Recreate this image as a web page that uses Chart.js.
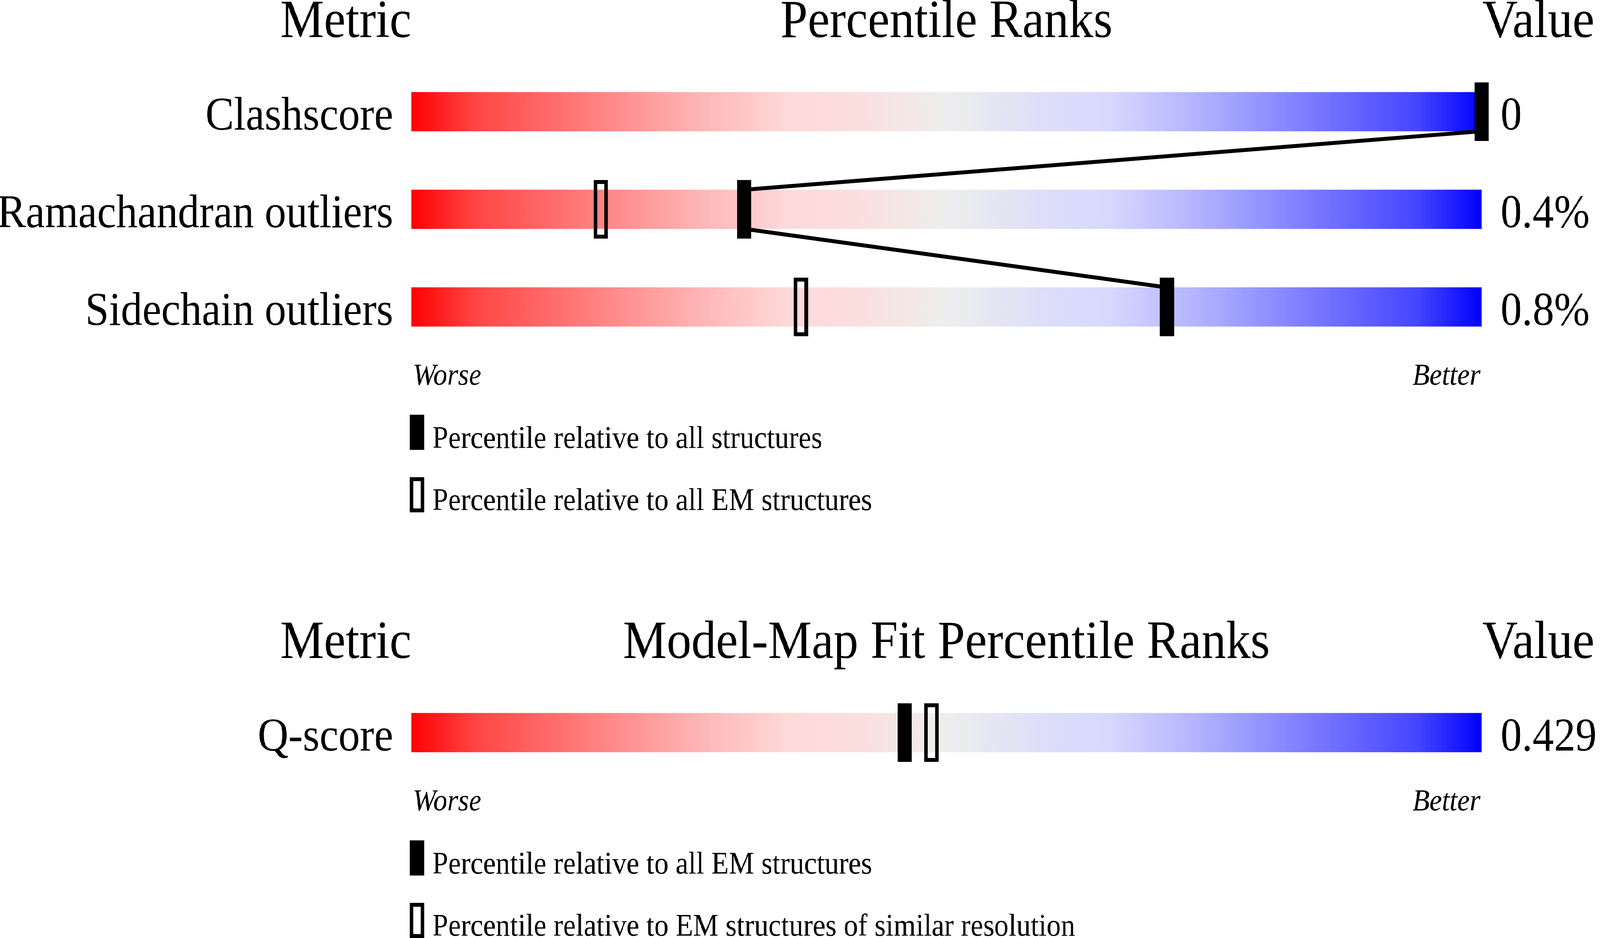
<!DOCTYPE html>
<html>
<head>
<meta charset="utf-8">
<script src="https://cdn.jsdelivr.net/npm/chart.js@4.4.0/dist/chart.umd.min.js"></script>
<style>
  html, body { margin: 0; padding: 0; background: #ffffff; overflow: hidden; }
  #wrap { position: absolute; left: 0; top: 0; width: 4485px; height: 2402px; transform-origin: 0 0; }
  .box { position: absolute; left: 0; width: 4485px; }
</style>
</head>
<body>
<div id="wrap">
  <div class="box" style="top:0;height:1340px"><canvas id="c1" width="4485" height="1340"></canvas></div>
  <div class="box" style="top:1340px;height:1062px"><canvas id="c2" width="4485" height="1062"></canvas></div>
</div>
<script>
// ---------------- data ----------------
const geometryMetrics = ['Clashscore', 'Ramachandran outliers', 'Sidechain outliers'];
const geometryValues = ['0', '0.4%', '0.8%'];
const geometryPctAll = [100, 31.1, 70.6];      // filled marker: relative to all structures
const geometryPctEM = [null, 17.7, 36.4];      // open marker: relative to all EM structures
const geometryHeaders = ['Metric', 'Percentile Ranks', 'Value'];
const geometryLegend = ['Percentile relative to all structures', 'Percentile relative to all EM structures'];

const fitMetrics = ['Q-score'];
const fitValues = ['0.429'];
const fitPctAllEM = [46.1];                    // filled marker: relative to all EM structures
const fitPctSimRes = [48.6];                   // open marker: EM structures of similar resolution
const fitHeaders = ['Metric', 'Model-Map Fit Percentile Ranks', 'Value'];
const fitLegend = ['Percentile relative to all EM structures', 'Percentile relative to EM structures of similar resolution'];

const scaleEnds = ['Worse', 'Better'];

// ---------------- styles ----------------
const SERIF = "'Liberation Serif', 'Times New Roman', serif";
const gradientStops = [
  [0.00, '#ff0000'], [0.06, '#ff4545'], [0.17, '#ff8080'], [0.27, '#ffb5b5'],
  [0.35, '#ffd8d8'], [0.42, '#fadfdf'], [0.50, '#eeeeee'], [0.58, '#dfdff8'],
  [0.65, '#d8d8ff'], [0.73, '#b5b5ff'], [0.83, '#8080ff'], [0.94, '#4545ff'], [1.00, '#0000ff']
];
const HALF_BAR = 0.2; // half of bar thickness in row units (100px of a 250px row)

// fit the 4485px-wide design into the actual window width
(function fitWidth() {
  const s = (window.innerWidth || 4485) / 4485;
  document.getElementById('wrap').style.transform = 'scaleX(' + s + ')';
})();

function makeMarker(filled) {
  const c = document.createElement('canvas');
  c.width = 40; c.height = 150;
  const g = c.getContext('2d');
  if (filled) {
    g.fillStyle = '#000';
    g.fillRect(0, 0, 40, 150);
  } else {
    g.strokeStyle = '#000';
    g.lineWidth = 10;
    g.strokeRect(5, 5, 30, 140);
  }
  return c;
}
const markerFilled = makeMarker(true);
const markerOpen = makeMarker(false);

const gradCache = {};
function barGradient(ctx) {
  const chart = ctx.chart;
  const a = chart.chartArea;
  if (!a) return '#eeeeee';
  const key = chart.id + ':' + a.left + ':' + a.right;
  if (!gradCache[key]) {
    const g = chart.ctx.createLinearGradient(a.left, 0, a.right, 0);
    gradientStops.forEach(s => g.addColorStop(s[0], s[1]));
    gradCache[key] = g;
  }
  return gradCache[key];
}

function annotations(headers, legendLabels) {
  return {
    id: 'annotations',
    afterDraw(chart) {
      const ctx = chart.ctx, a = chart.chartArea, xs = chart.scales.x;
      const left = xs.getPixelForValue(0), right = xs.getPixelForValue(100);
      ctx.save();
      ctx.fillStyle = '#000';
      ctx.strokeStyle = '#000';
      ctx.textBaseline = 'alphabetic';
      ctx.font = '138px ' + SERIF;
      ctx.textAlign = 'right';  ctx.fillText(headers[0], left, a.top - 66);
      ctx.textAlign = 'center'; ctx.fillText(headers[1], (left + right) / 2, a.top - 66);
      ctx.textAlign = 'left';   ctx.fillText(headers[2], right + 2, a.top - 66);

      ctx.font = 'italic 78px ' + SERIF;
      ctx.textAlign = 'left';  ctx.fillText(scaleEnds[0], left + 4, a.bottom + 74);
      ctx.textAlign = 'right'; ctx.fillText(scaleEnds[1], right - 3, a.bottom + 74);

      ctx.font = '80px ' + SERIF;
      ctx.textAlign = 'left';
      ctx.fillRect(left - 4, a.bottom + 151, 40, 90);
      ctx.fillText(legendLabels[0], left + 59, a.bottom + 236);
      ctx.lineWidth = 10;
      ctx.strokeRect(left + 1, a.bottom + 316, 30, 80);
      ctx.fillText(legendLabels[1], left + 59, a.bottom + 395);
      ctx.restore();
    }
  };
}

function buildChart(canvasId, metrics, values, pctFilled, pctOpen, headers, legendLabels, padTop, padBottom) {
  const rows = metrics.map((_, i) => i);
  const barData = rows.map(i => ({ x: [0, 100], y: i }));
  const filledData = rows.filter(i => pctFilled[i] != null).map(i => ({ x: pctFilled[i], y: i }));
  const openData = rows.filter(i => pctOpen[i] != null).map(i => ({ x: pctOpen[i], y: i }));
  const linkData = [];
  rows.forEach(i => {
    if (i > 0) linkData.push({ x: pctFilled[i], y: i - HALF_BAR });
    if (i < rows.length - 1) linkData.push({ x: pctFilled[i], y: i + HALF_BAR });
  });

  const yCommon = {
    type: 'linear',
    reverse: true,
    offset: false,
    min: -0.5,
    max: rows.length - 0.5,
    grid: { display: false, drawTicks: false },
    border: { display: false },
    afterBuildTicks: s => { s.ticks = rows.map(i => ({ value: i })); }
  };

  return new Chart(document.getElementById(canvasId), {
    type: 'bar',
    data: {
      datasets: [
        {
          type: 'scatter', data: filledData, pointStyle: markerFilled, pointRadius: 5,
          order: 0, clip: false, xAxisID: 'x', yAxisID: 'y'
        },
        {
          type: 'scatter', data: openData, pointStyle: markerOpen, pointRadius: 5,
          order: 1, clip: false, xAxisID: 'x', yAxisID: 'y'
        },
        {
          type: 'line', data: linkData, borderColor: '#000', borderWidth: 10, pointRadius: 0,
          tension: 0, fill: false, order: 2, clip: false, xAxisID: 'x', yAxisID: 'y'
        },
        {
          type: 'bar', indexAxis: 'y', data: barData, backgroundColor: barGradient,
          borderWidth: 0, barThickness: 100, order: 3, xAxisID: 'x', yAxisID: 'y'
        }
      ]
    },
    options: {
      responsive: false,
      devicePixelRatio: 1,
      animation: false,
      events: [],
      layout: { padding: { top: padTop, bottom: padBottom, left: 0, right: 0 } },
      plugins: { legend: { display: false }, tooltip: { enabled: false }, title: { display: false } },
      scales: {
        x: { type: 'linear', min: 0, max: 100, offset: false, display: false },
        y: Object.assign({}, yCommon, {
          position: 'left',
          ticks: {
            color: '#000', font: { family: SERIF, size: 120 }, padding: 51, labelOffset: 14,
            callback: v => metrics[v]
          },
          afterFit: s => { s.width = 1153; }
        }),
        y2: Object.assign({}, yCommon, {
          position: 'right',
          ticks: {
            color: '#000', font: { family: SERIF, size: 120 }, padding: 53, labelOffset: 14,
            callback: v => values[v]
          },
          afterFit: s => { s.width = 332; }
        })
      }
    },
    plugins: [annotations(headers, legendLabels)]
  });
}

function start() {
  buildChart('c1', geometryMetrics, geometryValues, geometryPctAll, geometryPctEM,
             geometryHeaders, geometryLegend, 161, 429);
  buildChart('c2', fitMetrics, fitValues, fitPctAllEM, fitPctSimRes,
             fitHeaders, fitLegend, 411, 401);
}
if (document.fonts && document.fonts.load) {
  Promise.all([
    document.fonts.load("120px 'Liberation Serif'"),
    document.fonts.load("italic 78px 'Liberation Serif'")
  ]).then(start, start);
} else {
  start();
}
</script>
</body>
</html>
